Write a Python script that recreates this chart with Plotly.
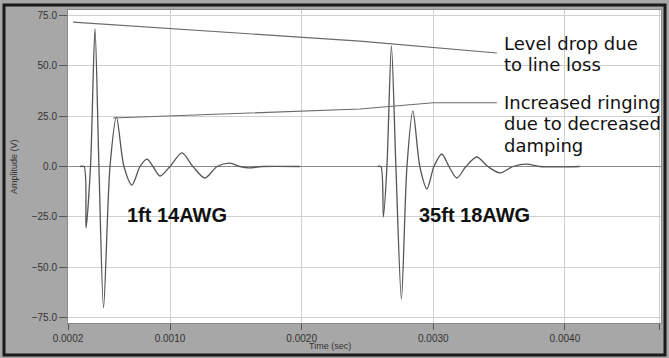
import plotly.graph_objects as go

# ---------------- data (time in ms, amplitude in V) ----------------
t1_ms = [0.316, 0.347, 0.362, 0.396, 0.430, 0.460, 0.495, 0.544, 0.593, 0.650,
         0.711, 0.772, 0.825, 0.871, 0.924, 1.000, 1.091, 1.174, 1.265, 1.357,
         1.455, 1.531, 1.600, 1.698, 1.987]
v1 = [0.0, 0.0, -30.4, 0.0, 68.1, 0.0, -70.0, 0.0, 24.5, 0.0,
      -9.2, 0.0, 3.7, 0.0, -4.7, 0.0, 6.7, 0.0, -5.7, 0.0,
      1.7, 0.0, -0.7, 0.0, 0.0]

t2_ms = [2.579, 2.602, 2.621, 2.648, 2.682, 2.716, 2.758, 2.800, 2.845, 2.898,
         2.952, 3.005, 3.065, 3.119, 3.179, 3.248, 3.331, 3.415, 3.506, 3.605,
         3.711, 3.810, 3.962, 4.113]
v2 = [0.0, 0.0, -25.0, 0.0, 59.7, 0.0, -65.6, 0.0, 27.5, 0.0,
      -11.1, 0.0, 6.2, 0.0, -5.7, 0.0, 4.7, 0.0, -3.2, 0.0,
      1.2, 0.0, -0.2, 0.0]

# guide lines joining peak levels
level_t_ms = [0.263, 2.443, 3.483]
level_v = [71.5, 62.1, 56.2]
ring_t_ms = [0.567, 2.443, 3.000, 3.483]
ring_v = [24.0, 28.5, 31.6, 31.6]

x_ticks = [0.000225, 0.001, 0.002, 0.003, 0.004, 0.00472]
y_ticks = [75, 50, 25, 0, -25, -50, -75]

label_1 = "1ft 14AWG"
label_2 = "35ft 18AWG"
note_level = ["Level drop due", "to line loss"]
note_ring = ["Increased ringing", "due to decreased", "damping"]
x_title = "Time (sec)"
y_title = "Amplitude (V)"

# ---------------- layout helpers ----------------
W, H = 669, 358
L, R, T, B = 68, 661, 10, 323


def px_x(px):
    return (px - L) / (R - L)


def px_y(py):
    return (B - py) / (B - T)


def sec(ms_list):
    return [v / 1000.0 for v in ms_list]


trace_col = "#565656"
fig = go.Figure()
fig.add_trace(go.Scatter(x=sec(t1_ms), y=v1, mode="lines",
                         line=dict(color=trace_col, width=1.3, shape="spline", smoothing=0.8),
                         showlegend=False))
fig.add_trace(go.Scatter(x=sec(t2_ms), y=v2, mode="lines",
                         line=dict(color=trace_col, width=1.3, shape="spline", smoothing=0.8),
                         showlegend=False))
fig.add_trace(go.Scatter(x=sec(level_t_ms), y=level_v, mode="lines",
                         line=dict(color="#6a6a6a", width=1.1), showlegend=False))
fig.add_trace(go.Scatter(x=sec(ring_t_ms), y=ring_v, mode="lines",
                         line=dict(color="#6a6a6a", width=1.1), showlegend=False))

ann = []
for i, line in enumerate(note_level):
    ann.append(dict(text=line, x=px_x(502), y=px_y(44 + 21 * i), xref="paper", yref="paper",
                    xanchor="left", yanchor="middle", showarrow=False,
                    font=dict(family="DejaVu Sans", size=18, color="#111")))
for i, line in enumerate(note_ring):
    ann.append(dict(text=line, x=px_x(502), y=px_y(103 + 21 * i), xref="paper", yref="paper",
                    xanchor="left", yanchor="middle", showarrow=False,
                    font=dict(family="DejaVu Sans", size=18, color="#111")))
ann.append(dict(text=label_1, x=px_x(125), y=px_y(215), xref="paper", yref="paper",
                xanchor="left", yanchor="middle", showarrow=False,
                font=dict(family="Liberation Sans", size=20, color="#111", weight="bold")))
ann.append(dict(text=label_2, x=px_x(417), y=px_y(215), xref="paper", yref="paper",
                xanchor="left", yanchor="middle", showarrow=False,
                font=dict(family="Liberation Sans", size=20, color="#111", weight="bold")))
ann.append(dict(text=x_title, x=px_x(330), y=px_y(346), xref="paper", yref="paper",
                xanchor="center", yanchor="middle", showarrow=False,
                font=dict(family="Liberation Sans", size=9, color="#333")))
ann.append(dict(text=y_title, x=px_x(14), y=px_y(167), xref="paper", yref="paper",
                xanchor="center", yanchor="middle", showarrow=False, textangle=-90,
                font=dict(family="Liberation Sans", size=9, color="#333")))

shapes = [dict(type="rect", xref="paper", yref="paper",
               x0=px_x(4), x1=px_x(665), y0=px_y(355), y1=px_y(5),
               line=dict(color="#1a1a1a", width=3), fillcolor="rgba(0,0,0,0)")]

fig.update_layout(
    width=W, height=H,
    margin=dict(l=L, r=W - R, t=T, b=H - B),
    paper_bgcolor="#a7a7a7",
    plot_bgcolor="white",
    template="none",
    annotations=ann,
    shapes=shapes,
    xaxis=dict(range=[0.000225, 0.00473], tickvals=x_ticks, tickformat=".4f",
               showgrid=True, gridcolor="#cfcfcf", gridwidth=1, zeroline=False,
               ticks="outside", ticklen=6, tickcolor="#555",
               showline=True, linecolor="#8a8a8a", mirror=True, automargin=False,
               tickfont=dict(family="Liberation Sans", size=10, color="#333")),
    yaxis=dict(range=[-77.5, 77.5], tickvals=y_ticks, tickformat=".1f",
               showgrid=True, gridcolor="#cfcfcf", gridwidth=1,
               zeroline=True, zerolinecolor="#8a8a8a", zerolinewidth=1,
               ticks="outside", ticklen=8, tickcolor="#555",
               showline=True, linecolor="#8a8a8a", mirror=True, automargin=False,
               tickfont=dict(family="Liberation Sans", size=10, color="#333")),
)

fig.write_html(
    "out.html",
    config={"displayModeBar": False},
    post_script="document.body.style.margin='0';document.body.style.padding='0';"
                "document.body.style.overflow='hidden';",
)
